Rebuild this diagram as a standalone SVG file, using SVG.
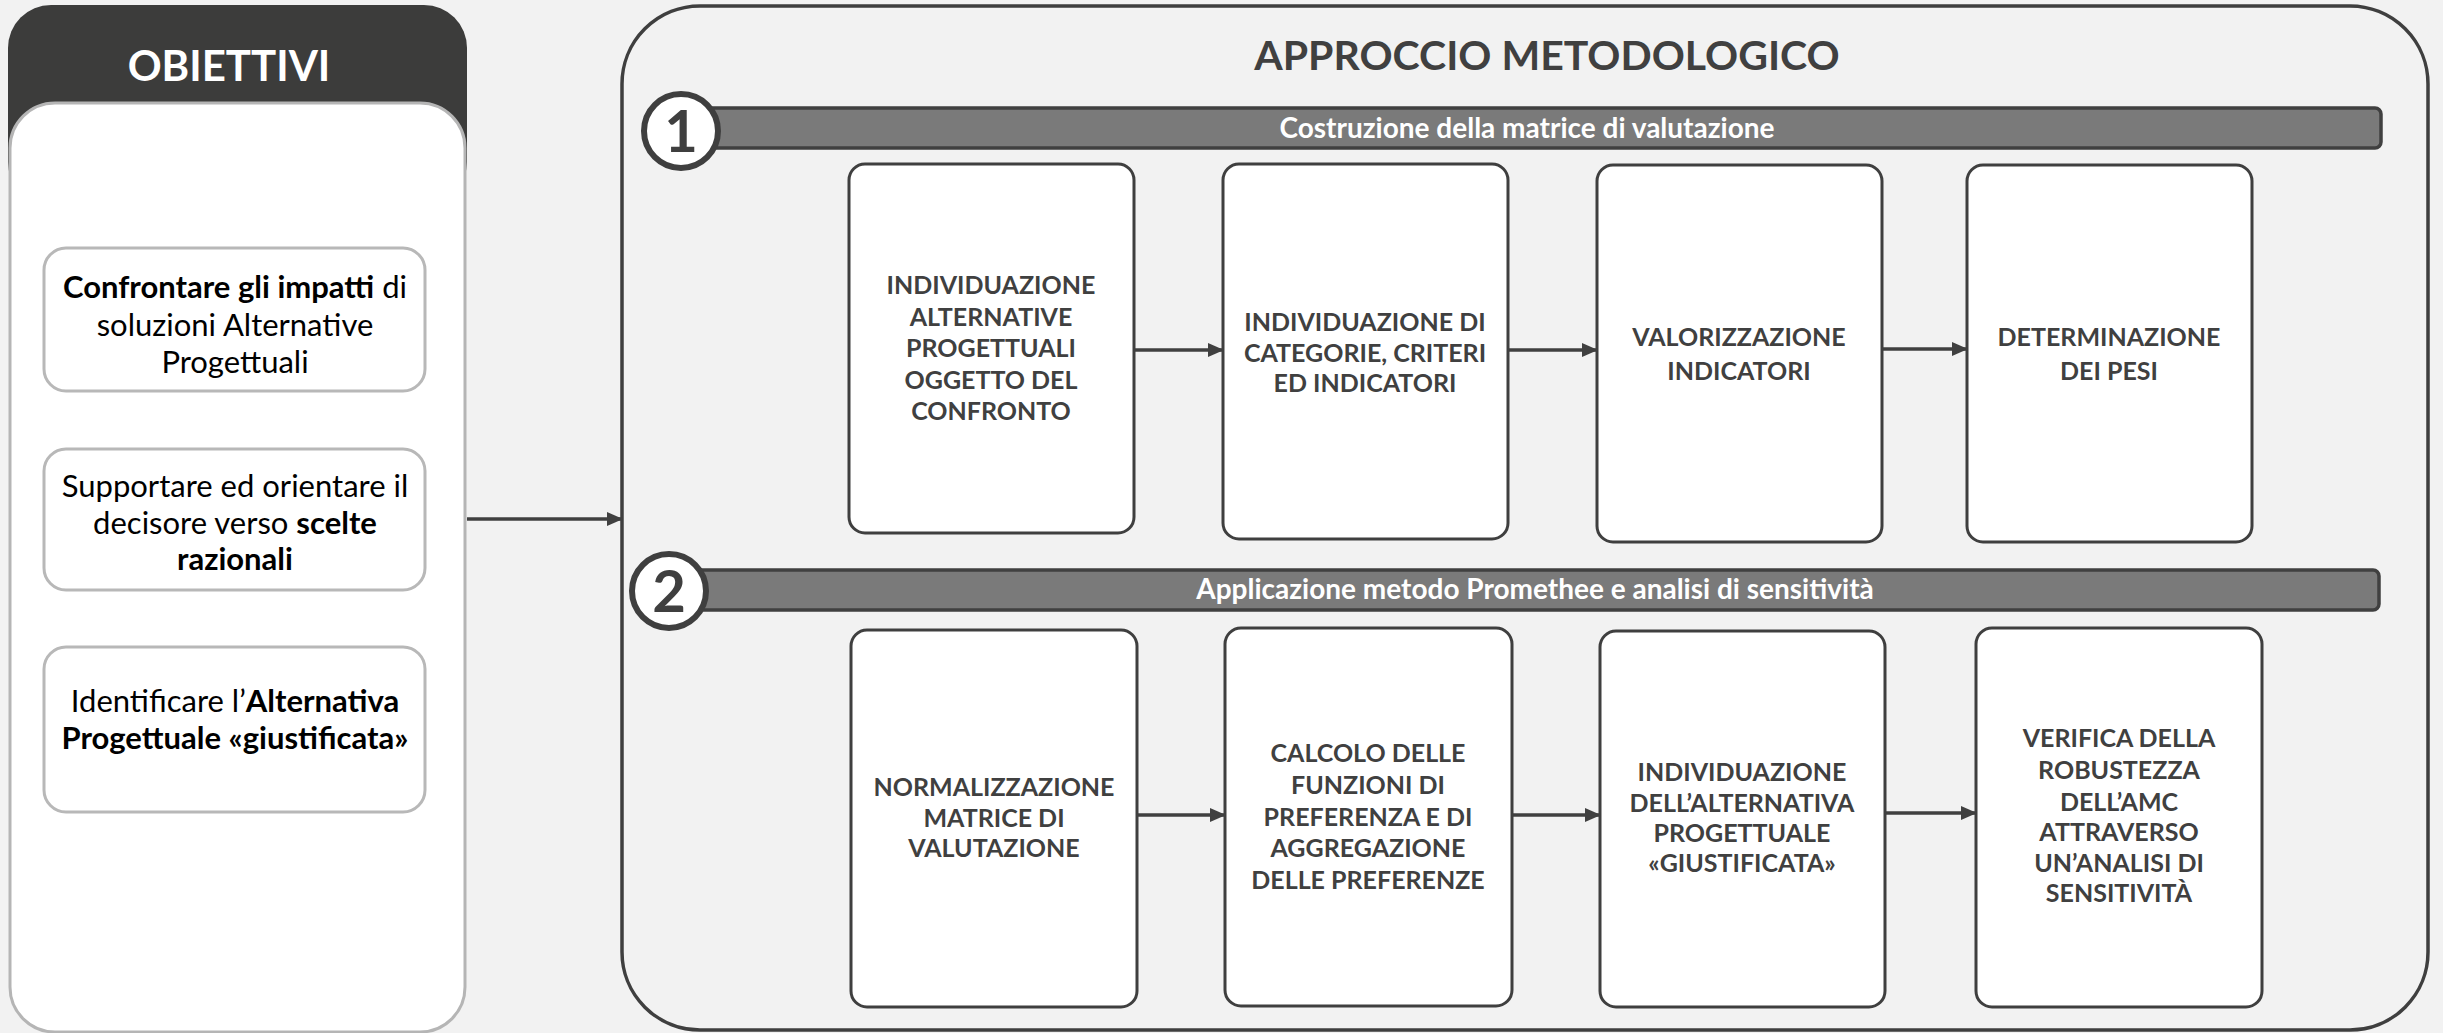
<svg xmlns="http://www.w3.org/2000/svg" width="2443" height="1033" viewBox="0 0 2443 1033">
<style>
.bg{fill:#f2f2f2}
.step{fill:#ffffff;stroke:#3f3f3f;stroke-width:3}
.obj{fill:#ffffff;stroke:#b8b8b8;stroke-width:3}
.band{fill:#7a7a7a;stroke:#404040;stroke-width:3.5}
.num{fill:#ffffff;stroke:#3f3f3f;stroke-width:6}
.st{font-family:Lato,"Liberation Sans",sans-serif;font-weight:bold;font-size:25px;fill:#404040;text-anchor:middle}
.ot{font-family:Lato,"Liberation Sans",sans-serif;font-size:31px;fill:#000000;text-anchor:middle}
.bt{font-family:Lato,"Liberation Sans",sans-serif;font-weight:bold;font-size:28px;fill:#ffffff;text-anchor:middle}
.nt{font-family:Lato,"Liberation Sans",sans-serif;font-weight:bold;font-size:58px;fill:#3f3f3f;text-anchor:middle}
.conn{stroke:#404040;stroke-width:3.5;fill:none;marker-end:url(#ah)}
</style>
<defs>
<marker id="ah" markerUnits="userSpaceOnUse" markerWidth="16" markerHeight="14" refX="15" refY="7" orient="auto">
<path d="M0,0 L16,7 L0,14 z" fill="#404040"/>
</marker>
</defs>
<rect class="bg" x="0" y="0" width="2443" height="1033"/>

<g id="obiettivi">
<rect x="8" y="5" width="459" height="200" rx="43" ry="43" fill="#3c3c3b"/>
<rect x="10" y="103" width="455" height="929" rx="45" ry="45" fill="#ffffff" stroke="#b5b5b5" stroke-width="3"/>
<text x="229" y="81" style="font-family:Lato,'Liberation Sans',sans-serif;font-weight:bold;font-size:42px;fill:#ffffff;text-anchor:middle">OBIETTIVI</text>
</g>

<g id="obj1">
<rect class="obj" x="44" y="248" width="381" height="143" rx="22"/>
<text class="ot" x="235" y="298"><tspan font-weight="bold">Confrontare gli impatti</tspan> di</text>
<text class="ot" x="235" y="336">soluzioni Alternative</text>
<text class="ot" x="235" y="373">Progettuali</text>
</g>
<g id="obj2">
<rect class="obj" x="44" y="449" width="381" height="141" rx="22"/>
<text class="ot" x="235" y="497">Supportare ed orientare il</text>
<text class="ot" x="235" y="534">decisore verso <tspan font-weight="bold">scelte</tspan></text>
<text class="ot" x="235" y="570" font-weight="bold">razionali</text>
</g>
<g id="obj3">
<rect class="obj" x="44" y="647" width="381" height="165" rx="22"/>
<text class="ot" x="235" y="712">Identificare l’<tspan font-weight="bold">Alternativa</tspan></text>
<text class="ot" x="235" y="749" font-weight="bold">Progettuale «giustificata»</text>
</g>

<g id="approccio">
<rect x="622" y="6" width="1806" height="1024" rx="78" ry="78" fill="#f2f2f2" stroke="#3f3f3f" stroke-width="3.5"/>
<text x="1547" y="70" style="font-family:Lato,'Liberation Sans',sans-serif;font-weight:bold;font-size:41px;fill:#404040;text-anchor:middle">APPROCCIO METODOLOGICO</text>
</g>

<g id="fase1">
<rect class="band" x="700" y="108" width="1681" height="40" rx="6"/>
<text class="bt" x="1527" y="138">Costruzione della matrice di valutazione</text>
<circle class="num" cx="681" cy="131" r="37"/>
<text class="nt" x="681" y="152">1</text>
</g>

<g id="fase2">
<rect class="band" x="690" y="570" width="1689" height="40" rx="6"/>
<text class="bt" x="1535" y="599">Applicazione metodo Promethee e analisi di sensitività</text>
<circle class="num" cx="669" cy="591" r="37"/>
<text class="nt" x="669" y="612">2</text>
</g>

<g id="a1">
<rect class="step" x="849" y="164" width="285" height="369" rx="16"/>
<text class="st" x="991" y="294">INDIVIDUAZIONE</text>
<text class="st" x="991" y="326">ALTERNATIVE</text>
<text class="st" x="991" y="357">PROGETTUALI</text>
<text class="st" x="991" y="389">OGGETTO DEL</text>
<text class="st" x="991" y="420">CONFRONTO</text>
</g>
<g id="a2">
<rect class="step" x="1223" y="164" width="285" height="375" rx="16"/>
<text class="st" x="1365" y="331">INDIVIDUAZIONE DI</text>
<text class="st" x="1365" y="362">CATEGORIE, CRITERI</text>
<text class="st" x="1365" y="392">ED INDICATORI</text>
</g>
<g id="a3">
<rect class="step" x="1597" y="165" width="285" height="377" rx="16"/>
<text class="st" x="1739" y="346">VALORIZZAZIONE</text>
<text class="st" x="1739" y="380">INDICATORI</text>
</g>
<g id="a4">
<rect class="step" x="1967" y="165" width="285" height="377" rx="16"/>
<text class="st" x="2109" y="346">DETERMINAZIONE</text>
<text class="st" x="2109" y="380">DEI PESI</text>
</g>

<g id="b1">
<rect class="step" x="851" y="630" width="286" height="377" rx="16"/>
<text class="st" x="994" y="796">NORMALIZZAZIONE</text>
<text class="st" x="994" y="827">MATRICE DI</text>
<text class="st" x="994" y="857">VALUTAZIONE</text>
</g>
<g id="b2">
<rect class="step" x="1225" y="628" width="287" height="378" rx="16"/>
<text class="st" x="1368" y="762">CALCOLO DELLE</text>
<text class="st" x="1368" y="794">FUNZIONI DI</text>
<text class="st" x="1368" y="826">PREFERENZA E DI</text>
<text class="st" x="1368" y="857">AGGREGAZIONE</text>
<text class="st" x="1368" y="889">DELLE PREFERENZE</text>
</g>
<g id="b3">
<rect class="step" x="1600" y="631" width="285" height="376" rx="16"/>
<text class="st" x="1742" y="781">INDIVIDUAZIONE</text>
<text class="st" x="1742" y="812">DELL’ALTERNATIVA</text>
<text class="st" x="1742" y="842">PROGETTUALE</text>
<text class="st" x="1742" y="872">«GIUSTIFICATA»</text>
</g>
<g id="b4">
<rect class="step" x="1976" y="628" width="286" height="379" rx="16"/>
<text class="st" x="2119" y="747">VERIFICA DELLA</text>
<text class="st" x="2119" y="779">ROBUSTEZZA</text>
<text class="st" x="2119" y="811">DELL’AMC</text>
<text class="st" x="2119" y="841">ATTRAVERSO</text>
<text class="st" x="2119" y="872">UN’ANALISI DI</text>
<text class="st" x="2119" y="902">SENSITIVITÀ</text>
</g>

<g id="connectors">
<line class="conn" x1="467" y1="519" x2="622" y2="519"/>
<line class="conn" x1="1134" y1="350" x2="1223" y2="350"/>
<line class="conn" x1="1508" y1="350" x2="1597" y2="350"/>
<line class="conn" x1="1882" y1="349" x2="1967" y2="349"/>
<line class="conn" x1="1137" y1="815" x2="1225" y2="815"/>
<line class="conn" x1="1512" y1="815" x2="1600" y2="815"/>
<line class="conn" x1="1885" y1="813" x2="1976" y2="813"/>
</g>
</svg>
